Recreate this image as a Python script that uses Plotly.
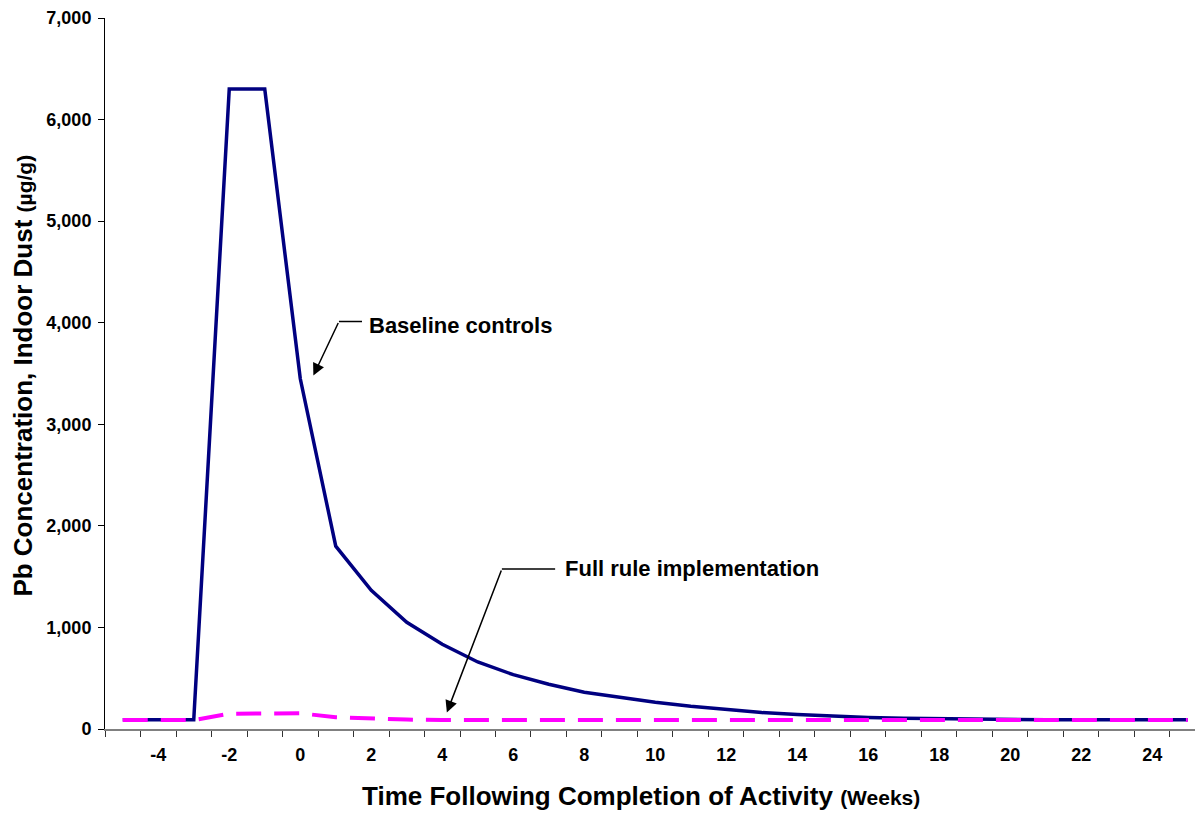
import plotly.graph_objects as go

weeks = list(range(-5, 26))
baseline = [90, 90, 90, 6300, 6300, 3450, 1800, 1365, 1050, 835, 660, 535, 440, 362, 313,
            264, 224, 189, 162, 143, 126, 113, 105, 100, 95, 92, 90, 90, 90, 90, 90]
full_rule = [88, 88, 88, 150, 155, 155, 115, 100, 93, 88, 88, 88, 88, 88, 88,
             88, 88, 88, 88, 88, 88, 88, 88, 88, 88, 88, 88, 88, 88, 88, 88]
tick_weeks = list(range(-4, 25, 2))
y_ticks = list(range(0, 7001, 1000))

FONT = "Liberation Sans"

fig = go.Figure()
fig.add_trace(go.Scatter(x=weeks, y=baseline, mode="lines", name="Baseline controls",
                         line=dict(color="#000080", width=3.5), showlegend=False))
fig.add_trace(go.Scatter(x=weeks, y=full_rule, mode="lines", name="Full rule implementation",
                         line=dict(color="#FF00FF", width=4, dash="25px,13px"), showlegend=False))

fig.update_layout(
    width=1195, height=817,
    margin=dict(l=97, r=0, t=10, b=96),
    paper_bgcolor="white", plot_bgcolor="white",
    font=dict(family=FONT, color="black"),
    xaxis=dict(
        range=[-5.5, 25.43], tickvals=tick_weeks, ticktext=[str(v) for v in tick_weeks],
        ticks="", showgrid=False, zeroline=False, showline=True, linecolor="#808080", linewidth=1.5,
        tickfont=dict(family=FONT, size=18, weight="bold", color="black"),
        ticklabelstandoff=9,
        minor=dict(tick0=-5.5, dtick=1, ticks="outside", ticklen=6, tickcolor="#333333", tickwidth=1, showgrid=False),
    ),
    yaxis=dict(
        range=[0, 7000], tickvals=y_ticks, tickformat=",", ticks="outside", ticklen=6,
        tickcolor="black", tickwidth=1, showgrid=False, zeroline=False, showline=True,
        linecolor="black", linewidth=1, ticklabelstandoff=3,
        tickfont=dict(family=FONT, size=18, weight="bold", color="black"),
    ),
)

# axis titles
fig.add_annotation(xref="paper", yref="paper", x=0.4885, y=-0.094, xanchor="center", yanchor="middle",
                   showarrow=False,
                   text="Time Following Completion of Activity <span style='font-size:21px'>(Weeks)</span>",
                   font=dict(family=FONT, size=26, weight="bold", color="black"))
fig.add_annotation(xref="paper", yref="paper", x=-0.0747, y=0.497, xanchor="center", yanchor="middle",
                   showarrow=False, textangle=-90, borderpad=0,
                   text="Pb Concentration, Indoor Dust <span style='font-size:21px'>(µg/g)</span>",
                   font=dict(family=FONT, size=26, weight="bold", color="black"))

# callouts
fig.add_annotation(x=0.37, y=3480, ax=1.09, ay=4012, axref="x", ayref="y", xref="x", yref="y",
                   text="", showarrow=True, arrowhead=2, arrowsize=1.6, arrowwidth=1.5, arrowcolor="black")
fig.add_shape(type="line", x0=1.09, y0=4012, x1=1.74, y1=4012, xref="x", yref="y",
              line=dict(color="black", width=1.5))
fig.add_annotation(x=1.88, y=3975, xref="x", yref="y", xanchor="left", yanchor="middle",
                   showarrow=False, text="Baseline controls",
                   font=dict(family=FONT, size=22, weight="bold", color="black"))

fig.add_annotation(x=4.13, y=162, ax=5.68, ay=1575, axref="x", ayref="y", xref="x", yref="y",
                   text="", showarrow=True, arrowhead=2, arrowsize=1.6, arrowwidth=1.5, arrowcolor="black")
fig.add_shape(type="line", x0=5.68, y0=1575, x1=7.18, y1=1575, xref="x", yref="y",
              line=dict(color="black", width=1.5))
fig.add_annotation(x=7.4, y=1580, xref="x", yref="y", xanchor="left", yanchor="middle",
                   showarrow=False, text="Full rule implementation",
                   font=dict(family=FONT, size=22, weight="bold", color="black"))

fig.write_html("out.html")
